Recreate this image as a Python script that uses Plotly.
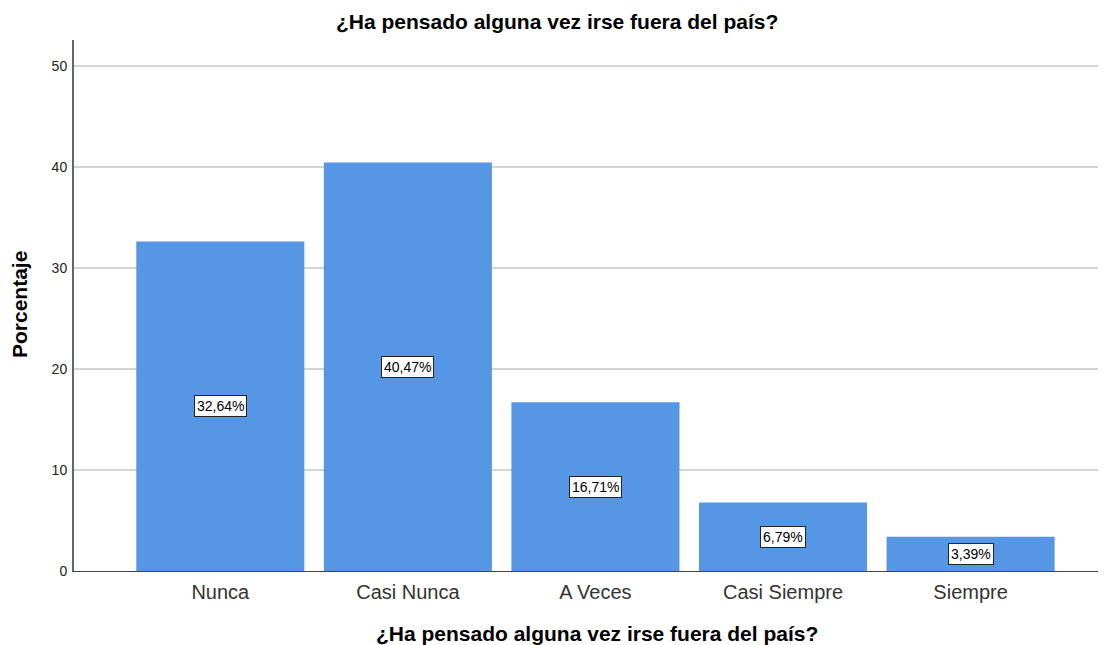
import plotly.graph_objects as go

categorias = ["Nunca", "Casi Nunca", "A Veces", "Casi Siempre", "Siempre"]
porcentajes = [32.64, 40.47, 16.71, 6.79, 3.39]
etiquetas = ["32,64%", "40,47%", "16,71%", "6,79%", "3,39%"]

titulo = "¿Ha pensado alguna vez irse fuera del país?"
fuente = "Arial, Liberation Sans, sans-serif"

fig = go.Figure(go.Bar(
    x=list(range(len(categorias))),
    y=porcentajes,
    width=0.896,
    marker=dict(color="#5596e5", line=dict(width=0)),
    hoverinfo="skip",
))

# etiquetas de valor en el centro de cada barra
for i, (v, t) in enumerate(zip(porcentajes, etiquetas)):
    fig.add_annotation(
        x=i, y=v / 2, text=t, showarrow=False,
        font=dict(family=fuente, size=14, color="black"),
        bgcolor="white", bordercolor="#222222", borderwidth=1, borderpad=2,
    )

# titulos
fig.add_annotation(xref="paper", yref="paper", x=0.471, y=1.034,
                   text="<b>" + titulo + "</b>", showarrow=False,
                   xanchor="center", yanchor="middle",
                   font=dict(family=fuente, size=21, color="black"))
fig.add_annotation(xref="paper", yref="paper", x=0.51, y=-0.117,
                   text="<b>" + titulo + "</b>", showarrow=False,
                   xanchor="center", yanchor="middle",
                   font=dict(family=fuente, size=21, color="black"))
fig.add_annotation(xref="paper", yref="paper", x=-0.0526, y=0.501,
                   text="<b>Porcentaje</b>", showarrow=False, textangle=-90,
                   xanchor="center", yanchor="middle",
                   font=dict(family=fuente, size=21, color="black"))

fig.update_layout(
    width=1098, height=637,
    margin=dict(l=66, r=6, t=32, b=74),
    paper_bgcolor="white", plot_bgcolor="white",
    font=dict(family=fuente, color="#222222"),
    showlegend=False,
    xaxis=dict(
        range=[-0.78, 4.69],
        tickmode="array", tickvals=list(range(len(categorias))), ticktext=categorias,
        tickfont=dict(size=20, color="#333333"),
        ticklabelstandoff=3,
        showline=True, linecolor="#444444", linewidth=1,
        showgrid=False, zeroline=False, ticks="", ticklen=0,
    ),
    yaxis=dict(
        range=[0, 52.6],
        tickvals=[0, 10, 20, 30, 40, 50],
        tickfont=dict(size=14, color="#222222"),
        ticklabelstandoff=2,
        showline=True, linecolor="#666666", linewidth=2,
        showgrid=True, gridcolor="#d4d4d4", gridwidth=1.5,
        zeroline=False, ticks="",
    ),
)

fig.write_html("out.html")
